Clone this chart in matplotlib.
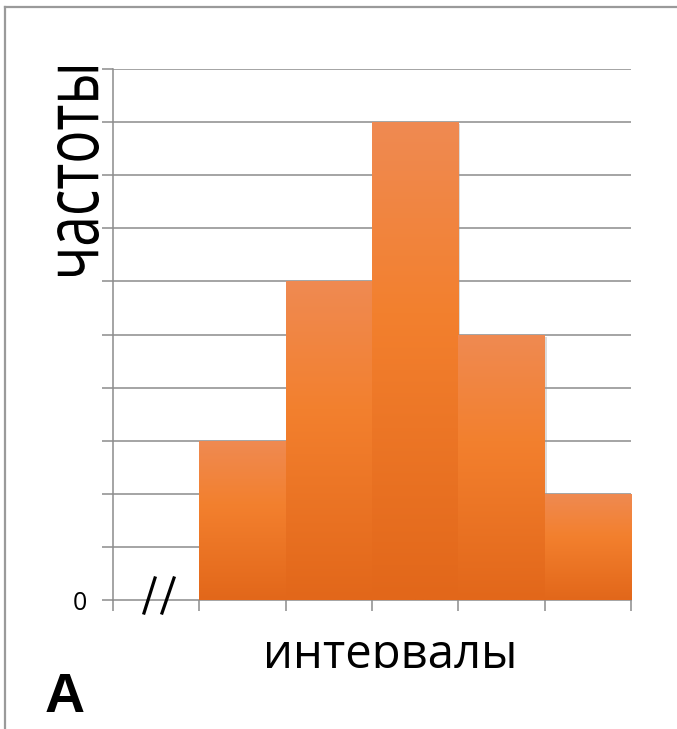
import numpy as np
import matplotlib
matplotlib.use("Agg")
import matplotlib.pyplot as plt
from matplotlib.colors import LinearSegmentedColormap
from matplotlib.font_manager import FontProperties
from matplotlib.patches import PathPatch
from matplotlib.textpath import TextPath
from matplotlib.transforms import Affine2D, Bbox, TransformedBbox
from matplotlib.lines import Line2D
import matplotlib.patheffects as pe

# частоты по интервалам (первый интервал пропущен — разрыв оси)
interval_left = [1, 2, 3, 4, 5]
frequencies = [3, 6, 9, 5, 2]
x_edges = [0, 1, 2, 3, 4, 5, 6]
y_levels = list(range(0, 11))

W, H = 677, 729
fig = plt.figure(figsize=(W / 100, H / 100), dpi=100)
ax = fig.add_axes([113 / W, (H - 600) / H, (631 - 113) / W, (600 - 69) / H])

grid_col = "#8c8c8c"
for y in y_levels[1:]:
    ax.axhline(y, color=grid_col, lw=1.1, zorder=1)

# столбцы с вертикальным градиентом
cmap = LinearSegmentedColormap.from_list(
    "orange", [(0.0, "#e2671a"), (0.6, "#f3802e"), (1.0, "#ef8a52")])
grad = np.linspace(0, 1, 256).reshape(-1, 1)
bars = ax.bar(interval_left, frequencies, width=1, align="edge",
              color="#f08030", edgecolor="none", zorder=2,
              path_effects=[pe.SimplePatchShadow(offset=(1.5, -1.5), shadow_rgbFace="#999999", alpha=0.35),
                            pe.Normal()])
for b, x0, h in zip(bars, interval_left, frequencies):
    im = ax.imshow(grad, cmap=cmap, origin="lower", aspect="auto",
                   extent=[x0, x0 + 1, 0, h], zorder=3)
    im.set_clip_path(b)
ax.set_xlim(0, 6)
ax.set_ylim(0, 10)

for s in ["top", "right"]:
    ax.spines[s].set_visible(False)
for s in ["left", "bottom"]:
    ax.spines[s].set_color(grid_col)
    ax.spines[s].set_linewidth(1.1)
ax.set_xticks(x_edges)
ax.set_xticklabels([])
ax.set_yticks(y_levels)
ax.set_yticklabels(["0"] + [""] * 10, fontsize=18, family="Open Sans", color="black")
ax.tick_params(axis="both", colors=grid_col, length=8, width=1.1)
ax.tick_params(axis="y", labelcolor="black", pad=11)

# знак разрыва оси
for x_top, x_bot in [(155, 144), (174, 162)]:
    fig.add_artist(Line2D([x_top / W, x_bot / W], [(H - 578) / H, (H - 613) / H],
                          color="black", lw=2.3, transform=fig.transFigure))

# подпись оси Y
tp = TextPath((0, 0), "частоты", size=100, prop=FontProperties(family="Open Sans"))
ext = tp.get_extents()
tr = (Affine2D().translate(-ext.x0, -ext.y0)
      .scale(209 / ext.width, 42 / ext.height)
      .rotate_deg(90)
      .translate(99, H - 276)
      .scale(1 / W, 1 / H))
fig.add_artist(PathPatch(tr.transform_path(tp), facecolor="black", edgecolor="none",
                         transform=fig.transFigure))

# подпись оси X, обрезанная снизу
xl = fig.text(390 / W, (H - 668) / H, "интервалы", family="Open Sans",
              fontsize=34, ha="center", va="baseline")
xl.set_clip_box(TransformedBbox(Bbox.from_extents(0, (H - 668) / H, 1, 1), fig.transFigure))
xl.set_clip_on(True)

fig.text(45 / W, (H - 712) / H, "A", family="Liberation Sans", weight="bold",
         fontsize=40, ha="left", va="baseline")

# рамка слайда
frame_col = "#9a9a9a"
fig.add_artist(Line2D([5.5 / W, 1], [(H - 6.5) / H] * 2, color=frame_col, lw=1.6,
                      transform=fig.transFigure))
fig.add_artist(Line2D([5.5 / W] * 2, [(H - 6.5) / H, 0.002], color=frame_col, lw=1.6,
                      transform=fig.transFigure))

fig.savefig("out.png", dpi=100)
